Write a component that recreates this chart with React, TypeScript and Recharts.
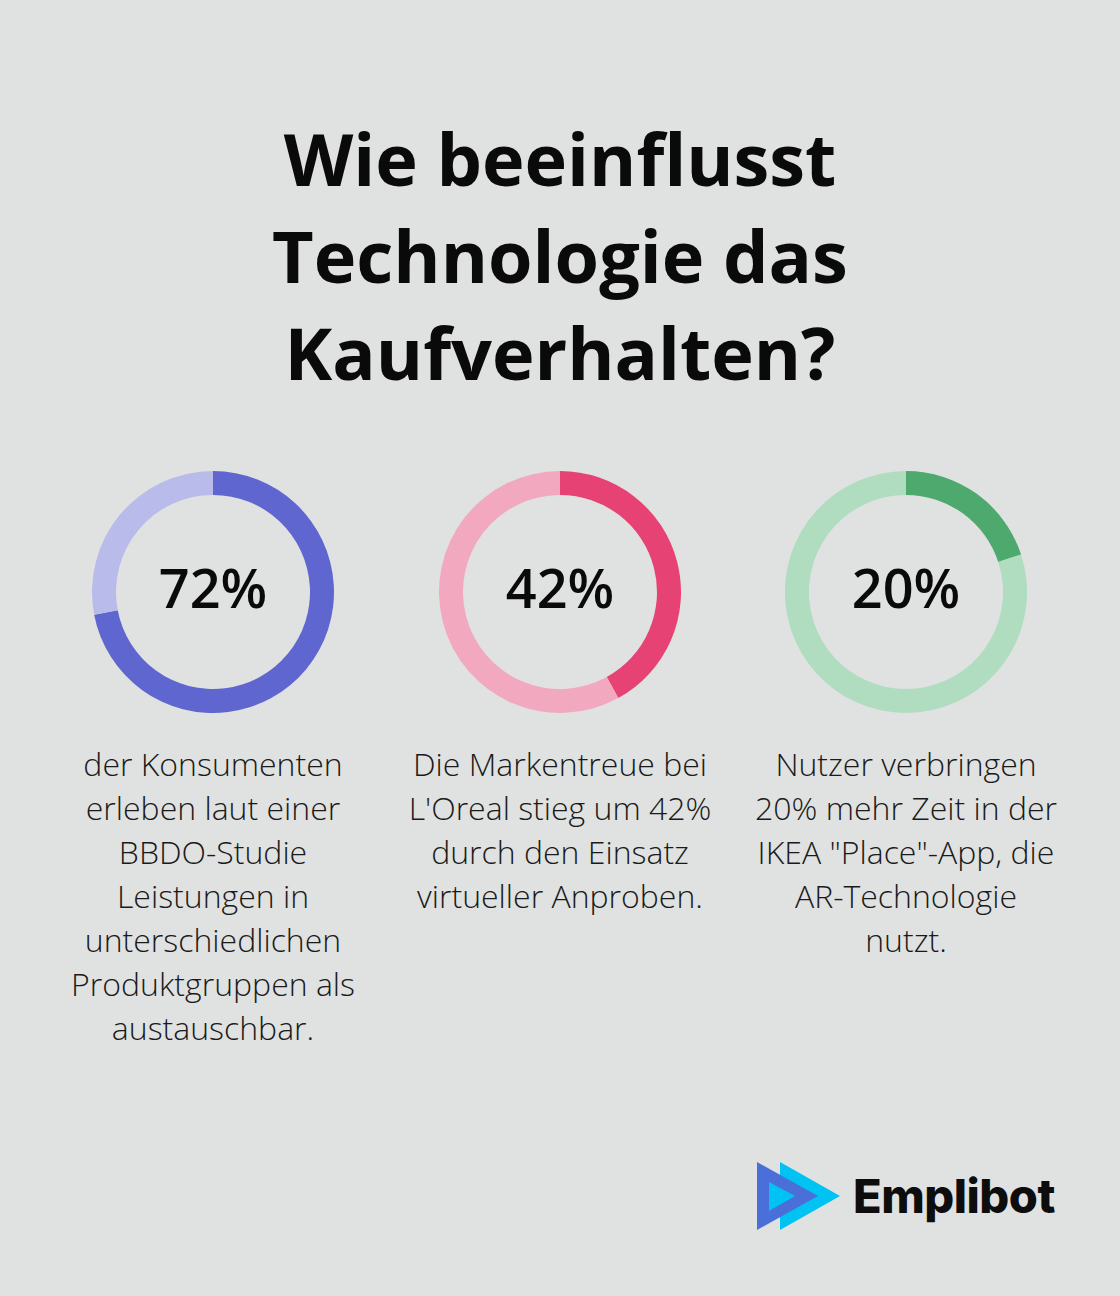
import { PieChart, Pie, Cell, Label } from 'recharts';

const titleLines = ['Wie beeinflusst', 'Technologie das', 'Kaufverhalten?'];

const percents = [72, 42, 20];

const descriptions = [
  ['der Konsumenten', 'erleben laut einer', 'BBDO-Studie', 'Leistungen in', 'unterschiedlichen', 'Produktgruppen als', 'austauschbar.'],
  ['Die Markentreue bei', "L'Oreal stieg um 42%", 'durch den Einsatz', 'virtueller Anproben.'],
  ['Nutzer verbringen', '20% mehr Zeit in der', 'IKEA "Place"-App, die', 'AR-Technologie', 'nutzt.'],
];

const ringColors = [
  ['#6066d0', '#b9bcea'],
  ['#e64374', '#f2a9c0'],
  ['#4ea96f', '#b0dcc0'],
];

const centersX = [213, 560, 906];

const FONT = '"Open Sans", "Noto Sans", sans-serif';

function Donut({ value, colors, cx }: { value: number; colors: string[]; cx: number }) {
  const data = [
    { name: 'share', value },
    { name: 'rest', value: 100 - value },
  ];
  return (
    <div style={{ position: 'absolute', left: cx - 125, top: 467 }}>
      <PieChart width={250} height={250} margin={{ top: 0, right: 0, bottom: 0, left: 0 }}>
        <Pie
          data={data}
          dataKey="value"
          cx="50%"
          cy="50%"
          innerRadius={97}
          outerRadius={121}
          startAngle={90}
          endAngle={-270}
          stroke="none"
          isAnimationActive={false}
        >
          {data.map((d, i) => (
            <Cell key={d.name} fill={colors[i]} />
          ))}
          <Label
            value={`${value}%`}
            position="center"
            fill="#0a0a0a"
            dy={-3}
            style={{ fontFamily: FONT, fontSize: 54, fontWeight: 600 }}
          />
        </Pie>
      </PieChart>
    </div>
  );
}

export default function App() {
  return (
    <div
      style={{
        position: 'absolute',
        left: 0,
        top: 0,
        width: 1120,
        height: 1296,
        background: '#e0e2e1',
        fontFamily: FONT,
        color: '#0a0a0a',
        overflow: 'hidden',
      }}
    >
      <div
        style={{
          position: 'absolute',
          top: 110,
          left: 0,
          width: 1120,
          textAlign: 'center',
          fontSize: 72,
          fontWeight: 700,
          lineHeight: '97px',
        }}
      >
        {titleLines.map((t) => (
          <div key={t}>{t}</div>
        ))}
      </div>

      {percents.map((p, i) => (
        <Donut key={p} value={p} colors={ringColors[i]} cx={centersX[i]} />
      ))}

      {descriptions.map((lines, i) => (
        <div
          key={i}
          style={{
            position: 'absolute',
            top: 742,
            left: centersX[i] - 170,
            width: 340,
            textAlign: 'center',
            fontSize: 32,
            fontWeight: 300,
            lineHeight: '44px',
            color: '#1a1a1a',
          }}
        >
          {lines.map((l) => (
            <div key={l} style={{ whiteSpace: 'nowrap' }}>{l}</div>
          ))}
        </div>
      ))}

      <svg style={{ position: 'absolute', left: 0, top: 0 }} width={1120} height={1296}>
        <polygon points="780,1162 840,1196 780,1230" fill="#00c2f3" />
        <polygon points="757,1162 818,1196 757,1230" fill="#4a6fd8" />
        <polygon points="769,1182 795,1196 769,1211" fill="#00c2f3" />
        <text
          x={853}
          y={1213}
          fontFamily='Inter, "DejaVu Sans", sans-serif'
          fontWeight={800}
          fontSize={47}
          letterSpacing={-0.5}
          fill="#0d0d0d"
        >
          Emplibot
        </text>
      </svg>
    </div>
  );
}
